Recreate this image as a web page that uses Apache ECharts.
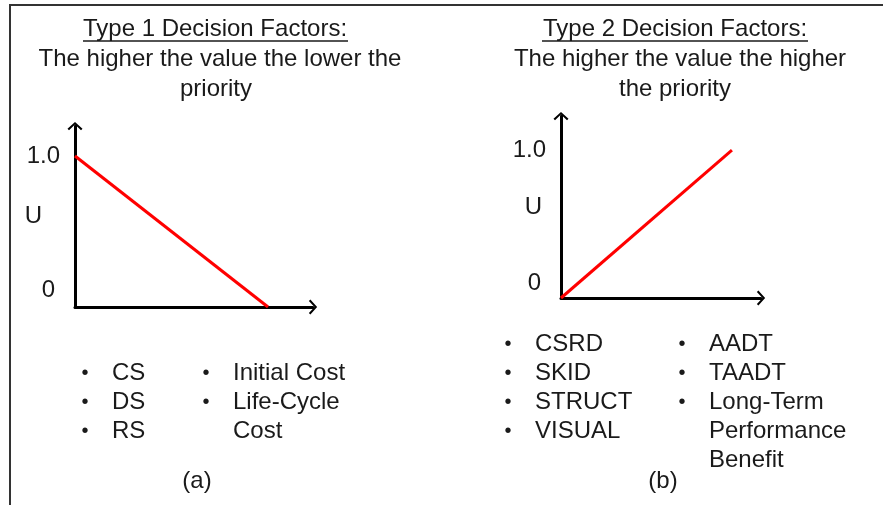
<!DOCTYPE html>
<html>
<head>
<meta charset="utf-8">
<script src="https://cdn.jsdelivr.net/npm/echarts@6/dist/echarts.min.js"></script>
<style>
  html, body { margin: 0; padding: 0; background: #fff; }
  #main { width: 883px; height: 505px; }
</style>
</head>
<body>
<div id="main"></div>
<script>
// utility curves (x = factor value, U = utility)
var type1X = [0, 1];
var type1U = [1, 0];
var type2X = [0, 1];
var type2U = [0, 1];
var uTicks = [0, 1];

// factor lists shown below each panel
var type1ColA = ['CS', 'DS', 'RS'];
var type1ColB = ['Initial Cost', 'Life-Cycle\nCost'];
var type2ColA = ['CSRD', 'SKID', 'STRUCT', 'VISUAL'];
var type2ColB = ['AADT', 'TAADT', 'Long-Term\nPerformance\nBenefit'];

var FONT = 'Liberation Sans';
var FS = 24;
var INK = '#1a1a1a';
var chevron = 'path://M0,0 L10,9 L8,11 L0,3.5 L-8,11 L-10,9 Z';

var chart = echarts.init(document.getElementById('main'));

function pairs(xs, ys) {
	return xs.map(function (x, i) { return [x, ys[i]]; });
}

function bulletsFor(items) {
	// one bullet per item, blank lines for wrapped continuation lines
	var out = [];
	items.forEach(function (t) {
		var n = t.split('\n').length;
		out.push('\u2022');
		for (var k = 1; k < n; k++) out.push(' ');
	});
	return out.join('\n');
}

function listText(x, y, items) {
	return [
		{ type: 'text', x: x, y: y, style: { text: bulletsFor(items), fontSize: 20, fontFamily: FONT, fill: INK, align: 'center', verticalAlign: 'top', lineHeight: 29 } },
		{ type: 'text', x: x + 27, y: y, style: { text: items.join('\n'), fontSize: FS, fontFamily: FONT, fill: INK, align: 'left', verticalAlign: 'top', lineHeight: 29 } }
	];
}

function centerText(x, y, txt) {
	return { type: 'text', x: x, y: y, style: { text: txt, fontSize: FS, fontFamily: FONT, fill: INK, align: 'center', verticalAlign: 'middle' } };
}

function yAxisFor(gridIndex, max, pad, gap) {
	return {
		type: 'value', gridIndex: gridIndex, min: 0, max: max,
		name: 'U', nameLocation: 'middle', nameRotate: 0, nameGap: gap, nameMoveOverlap: false,
		nameTextStyle: { fontSize: FS, fontFamily: FONT, color: INK },
		axisLine: { show: true, symbol: ['none', chevron], symbolSize: [15, 11], lineStyle: { color: '#000', width: 3 } },
		axisTick: { show: false },
		splitLine: { show: false },
		axisLabel: {
			customValues: uTicks, margin: 15, fontSize: FS, fontFamily: FONT, color: INK,
			formatter: function (v) { return v === 0 ? '{z|0}' : '1.0'; },
			rich: { z: { fontSize: FS, fontFamily: FONT, color: INK, padding: [0, 5, pad, 0] } }
		}
	};
}

function xAxisFor(gridIndex, max) {
	return {
		type: 'value', gridIndex: gridIndex, min: 0, max: max,
		axisLine: { show: true, symbol: ['none', chevron], symbolSize: [15, 11], lineStyle: { color: '#000', width: 3 } },
		axisTick: { show: false },
		splitLine: { show: false },
		axisLabel: { show: false }
	};
}

var graphics = [
	// frame
	{ type: 'polyline', shape: { points: [[10, 506], [10, 5], [884, 5]] }, style: { stroke: '#333', lineWidth: 2, fill: null } },
	// panel (a) heading
	centerText(215, 29, 'Type 1 Decision Factors:'),
	{ type: 'line', shape: { x1: 83, y1: 41, x2: 348, y2: 41 }, style: { stroke: INK, lineWidth: 1.5 } },
	centerText(220, 59, 'The higher the value the lower the'),
	centerText(216, 89, 'priority'),
	// panel (b) heading
	centerText(675, 29, 'Type 2 Decision Factors:'),
	{ type: 'line', shape: { x1: 542, y1: 41, x2: 808, y2: 41 }, style: { stroke: INK, lineWidth: 1.5 } },
	centerText(680, 59, 'The higher the value the higher'),
	centerText(675, 89, 'the priority'),
	centerText(197, 481, '(a)'),
	centerText(663, 481, '(b)')
].concat(
	listText(85, 359, type1ColA),
	listText(206, 359, type1ColB),
	listText(508, 330, type2ColA),
	listText(682, 330, type2ColB)
);

var option = {
	animation: false,
	backgroundColor: '#fff',
	textStyle: { fontFamily: FONT },
	grid: [
		{ left: 75, top: 126, width: 238, height: 181 },
		{ left: 561, top: 116, width: 200, height: 182 }
	],
	xAxis: [xAxisFor(0, 1.233), xAxisFor(1, 1.17)],
	yAxis: [yAxisFor(0, 1.199, 34, 33), yAxisFor(1, 1.23, 30, 19)],
	series: [
		{
			type: 'line', xAxisIndex: 0, yAxisIndex: 0, data: pairs(type1X, type1U),
			showSymbol: false, clip: false, lineStyle: { color: '#ff0000', width: 3 }
		},
		{
			type: 'line', xAxisIndex: 1, yAxisIndex: 1, data: pairs(type2X, type2U),
			showSymbol: false, clip: false, lineStyle: { color: '#ff0000', width: 3 }
		}
	],
	graphic: graphics
};

chart.setOption(option);
</script>
</body>
</html>
